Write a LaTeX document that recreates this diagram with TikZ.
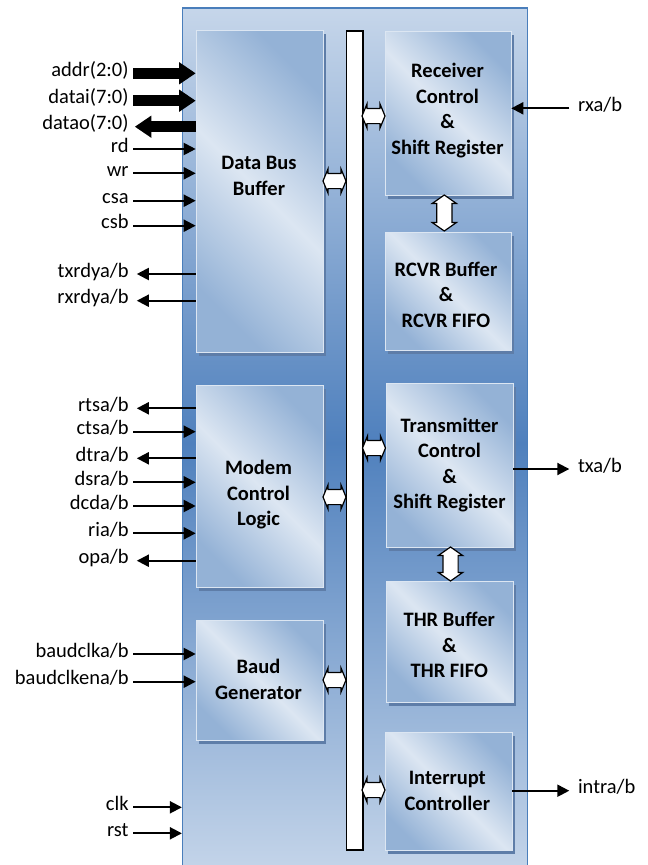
\documentclass[tikz,border=0pt]{standalone}
\usepackage{fontspec}
\setmainfont{Carlito}
\usetikzlibrary{arrows.meta,shapes.arrows,shadows}
\definecolor{olight}{HTML}{C6D6EA}
\definecolor{odark}{HTML}{4F80BD}
\definecolor{blight}{HTML}{DCE6F2}
\definecolor{bdark}{HTML}{94B2D6}
\definecolor{bshadow}{HTML}{5E7DA8}
\definecolor{oborder}{HTML}{4A7EBB}
\begin{document}
\begin{tikzpicture}[x=1pt,y=-1pt,
  font=\fontsize{20.5pt}{25.5pt}\selectfont,
  outerbox/.style={rectangle, inner sep=0pt, draw=oborder, line width=1.2pt,
    top color=olight, bottom color=olight, middle color=odark},
  blk/.style={rectangle, inner sep=0pt, draw=blight, line width=0.6pt,
    top color=bdark, bottom color=bdark, middle color=blight, shading angle=-45,
    drop shadow={shadow xshift=3pt, shadow yshift=-4pt, fill=bshadow, opacity=1}},
  btxt/.style={align=center, font=\fontsize{20.5pt}{25.5pt}\selectfont\bfseries, inner sep=0pt},
  llab/.style={anchor=east, inner xsep=4.5pt, inner ysep=0pt, text height=0.75em, text depth=0.12em},
  rlab/.style={anchor=west, inner xsep=8.5pt, inner ysep=0pt, text height=0.75em, text depth=0.12em},
  sig/.style={line width=2pt, -{Triangle[length=12pt,width=12pt]}},
  sigout/.style={sig, shorten >=3.5pt},
  bigsig/.style={line width=11pt, -{Triangle[length=16.5pt,width=21pt]}},
  bigout/.style={bigsig, shorten >=1.5pt},
  harr/.style={double arrow, draw=black, fill=white, line width=1.2pt,
    inner xsep=0pt, inner ysep=7pt, double arrow head extend=4.5pt,
    double arrow tip angle=135, minimum height=23pt},
  varr/.style={harr, rotate=90, double arrow tip angle=110}
]
\useasboundingbox (0,0) rectangle (648,865);
\clip (0,0) rectangle (648,865);

% outer block
\node[outerbox, minimum width=345pt, minimum height=870pt] (outer) at (355,443) {};

% internal bus
\node[draw=black, fill=white, line width=1.5pt, inner sep=0pt, minimum width=16.5pt, minimum height=819pt] (bus) at (354.5,440.5) {};

% blocks
\node[blk, minimum width=127pt, minimum height=322pt] (dbb) at (259.5,191) {};
\node[blk, minimum width=127pt, minimum height=202pt] (mcl) at (259.5,486) {};
\node[blk, minimum width=127pt, minimum height=120pt] (baud) at (259.5,680) {};
\node[blk, minimum width=126pt, minimum height=164pt] (rcs) at (448,113) {};
\node[blk, minimum width=126pt, minimum height=118pt] (rbf) at (448,291) {};
\node[blk, minimum width=127pt, minimum height=164pt] (tcs) at (449.5,465) {};
\node[blk, minimum width=127pt, minimum height=121pt] (thr) at (449.5,641.5) {};
\node[blk, minimum width=127pt, minimum height=118pt] (irq) at (448.5,791) {};

% block texts
\node[btxt] (dbbt) at (259,176) {Data Bus\\Buffer};
\node[btxt] (mclt) at (258.5,495) {Modem\\Control\\Logic};
\node[btxt] (baudt) at (258.5,679.5) {Baud\\Generator};
\node[btxt] (rcst) at (447.5,110.5) {Receiver\\Control\\\&\\Shift Register};
\node[btxt] (rbft) at (446,294.5) {RCVR Buffer\\\&\\RCVR FIFO};
\node[btxt] (tcst) at (449.5,465) {Transmitter\\Control\\\&\\Shift Register};
\node[btxt] (thrt) at (449.3,645) {THR Buffer\\\&\\THR FIFO};
\node[btxt] (irqt) at (447.3,791) {Interrupt\\Controller};

% bus connections
\node[harr] (h1) at (334.5,181) {};
\node[harr] (h2) at (373.5,116) {};
\node[harr] (h3) at (334.5,497) {};
\node[harr] (h4) at (374,448) {};
\node[harr] (h5) at (334.5,680) {};
\node[harr] (h6) at (373.5,790) {};
\node[varr, minimum height=36pt] (v1) at (444.3,213) {};
\node[varr, minimum height=34pt] (v2) at (450.5,564) {};

% left signals: data bus buffer
\node[llab] (addr) at (133.3,73.3) {addr(2:0)};
\node[llab] (datai) at (133.3,100.7) {datai(7:0)};
\node[llab] (datao) at (133.3,126.7) {datao(7:0)};
\node[llab] (rd) at (133.3,149) {rd};
\node[llab] (wr) at (133.3,173.3) {wr};
\node[llab] (csa) at (133.3,200.7) {csa};
\node[llab] (csb) at (133.3,225.7) {csb};
\node[llab] (txrdy) at (133.3,274) {txrdya/b};
\node[llab] (rxrdy) at (133.3,300.7) {rxrdya/b};
\draw[bigsig] (addr.east) -- (addr.east -| dbb.west);
\draw[bigsig] (datai.east) -- (datai.east -| dbb.west);
\draw[bigout] (datao.east -| dbb.west) -- (datao.east);
\draw[sig] (rd.east) -- (rd.east -| dbb.west);
\draw[sig] (wr.east) -- (wr.east -| dbb.west);
\draw[sig] (csa.east) -- (csa.east -| dbb.west);
\draw[sig] (csb.east) -- (csb.east -| dbb.west);
\draw[sigout] (txrdy.east -| dbb.west) -- (txrdy.east);
\draw[sigout] (rxrdy.east -| dbb.west) -- (rxrdy.east);

% modem signals
\node[llab] (rts) at (133.3,408.3) {rtsa/b};
\node[llab] (cts) at (133.3,431.7) {ctsa/b};
\node[llab] (dtr) at (133.3,458.3) {dtra/b};
\node[llab] (dsr) at (133.3,482.3) {dsra/b};
\node[llab] (dcd) at (133.3,506) {dcda/b};
\node[llab] (ri) at (133.3,533.3) {ria/b};
\node[llab] (op) at (133.3,560.7) {opa/b};
\draw[sigout] (rts.east -| mcl.west) -- (rts.east);
\draw[sig] (cts.east) -- (cts.east -| mcl.west);
\draw[sigout] (dtr.east -| mcl.west) -- (dtr.east);
\draw[sig] (dsr.east) -- (dsr.east -| mcl.west);
\draw[sig] (dcd.east) -- (dcd.east -| mcl.west);
\draw[sig] (ri.east) -- (ri.east -| mcl.west);
\draw[sigout] (op.east -| mcl.west) -- (op.east);

% baud signals
\node[llab] (bclk) at (133.3,654) {baudclka/b};
\node[llab] (bclken) at (133.3,681.7) {baudclkena/b};
\draw[sig] (bclk.east) -- (bclk.east -| baud.west);
\draw[sig] (bclken.east) -- (bclken.east -| baud.west);

% clock and reset
\node[llab] (clk) at (133.3,807.3) {clk};
\node[llab] (rst) at (133.3,833.3) {rst};
\draw[sig] (clk.east) -- (clk.east -| outer.west);
\draw[sig] (rst.east) -- (rst.east -| outer.west);

% right signals
\node[rlab] (rxa) at (569.3,108.3) {rxa/b};
\node[rlab] (txa) at (569.3,469) {txa/b};
\node[rlab] (intr) at (569.3,790.7) {intra/b};
\draw[sig] (rxa.west) -- (rxa.west -| rcs.east);
\draw[sig] (txa.west -| tcs.east) -- (txa.west);
\draw[sig] (intr.west -| irq.east) -- (intr.west);
\end{tikzpicture}
\end{document}
